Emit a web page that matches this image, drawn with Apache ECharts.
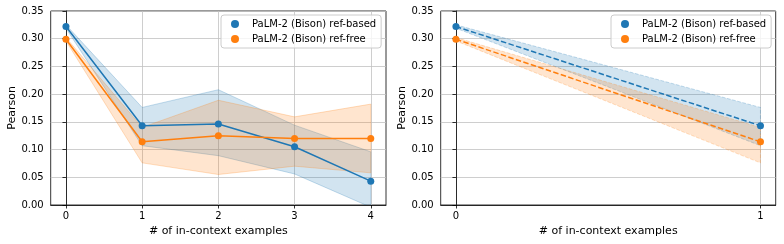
<!DOCTYPE html>
<html>
<head>
<meta charset="utf-8">
<script src="https://cdn.jsdelivr.net/npm/echarts@6/dist/echarts.min.js"></script>
<style>
html,body{margin:0;padding:0;background:#fff;}
#chart{width:784px;height:244px;}
</style>
</head>
<body>
<div id="chart"></div>
<script>
// ---- data ----
const xLeft = [0, 1, 2, 3, 4];
const xRight = [0, 1];
const basedMean = [0.322, 0.143, 0.146, 0.105, 0.043];
const basedLo   = [0.319, 0.107, 0.089, 0.056, -0.004];
const basedHi   = [0.325, 0.176, 0.208, 0.144, 0.096];
const freeMean  = [0.299, 0.114, 0.125, 0.120, 0.120];
const freeLo    = [0.296, 0.076, 0.055, 0.070, 0.058];
const freeHi    = [0.302, 0.140, 0.189, 0.159, 0.182];
const yTicks = [0, 0.05, 0.10, 0.15, 0.20, 0.25, 0.30, 0.35];
const nameBased = 'PaLM-2 (Bison) ref-based';
const nameFree = 'PaLM-2 (Bison) ref-free';

const BLUE = '#1f77b4', ORANGE = '#ff7f0e';
const FONT = 'DejaVu Sans';
const GRIDC = '#c2c2c2';

function rgba(hex, a) {
  const n = parseInt(hex.slice(1), 16);
  return 'rgba(' + ((n >> 16) & 255) + ',' + ((n >> 8) & 255) + ',' + (n & 255) + ',' + a + ')';
}
function pairs(xs, ys) { return xs.map((x, i) => [x, ys[i]]); }

function bandSeries(xs, lo, hi, color, dashed, idx) {
  const data = xs.map((x, i) => [x, lo[i], hi[i]]);
  return {
    type: 'custom', xAxisIndex: idx, yAxisIndex: idx, clip: true, silent: true, z: 1,
    data: data,
    encode: { x: 0, y: [1, 2] },
    renderItem: function (params, api) {
      if (params.dataIndex !== 0) return;
      const top = data.map(d => api.coord([d[0], d[2]]));
      const bot = data.map(d => api.coord([d[0], d[1]])).reverse();
      return {
        type: 'polygon',
        shape: { points: top.concat(bot) },
        style: {
          fill: rgba(color, 0.2),
          stroke: rgba(color, 0.25),
          lineWidth: 1,
          lineDash: dashed ? [3.7, 1.6] : null
        }
      };
    }
  };
}
function lineSeries(name, xs, ys, color, dashed, idx) {
  return {
    type: 'line', name: name, xAxisIndex: idx, yAxisIndex: idx, z: 3,
    data: pairs(xs, ys),
    symbol: 'circle', symbolSize: 7, showSymbol: true,
    itemStyle: { color: color },
    lineStyle: { color: color, width: 1.5, type: dashed ? [5.5, 2.4] : 'solid' },
    emphasis: { disabled: true },
    animation: false
  };
}
function xAxisDef(idx, min, max, ticks) {
  return {
    type: 'value', gridIndex: idx, min: min, max: max,
    name: '# of in-context examples', nameLocation: 'middle', nameGap: 19,
    nameTextStyle: { fontFamily: FONT, fontSize: 11, color: '#000' },
    axisLine: { show: true, onZero: false, lineStyle: { color: '#000', width: 0.8 } },
    axisTick: { show: true, length: 3.5, lineStyle: { color: '#000', width: 0.8 }, customValues: ticks },
    axisLabel: { fontFamily: FONT, fontSize: 10, color: '#000', margin: 6, customValues: ticks },
    splitLine: { show: true, lineStyle: { color: GRIDC, width: 0.8 } }
  };
}
function yAxisDef(idx) {
  return {
    type: 'value', gridIndex: idx, min: 0, max: 0.35, interval: 0.05,
    name: 'Pearson', nameLocation: 'middle', nameGap: 33,
    nameTextStyle: { fontFamily: FONT, fontSize: 11, color: '#000' },
    axisLine: { show: true, lineStyle: { color: '#000', width: 0.8 } },
    axisTick: { show: true, length: 3.5, lineStyle: { color: '#000', width: 0.8 } },
    axisLabel: { fontFamily: FONT, fontSize: 10, color: '#000', margin: 7,
      formatter: v => v.toFixed(2) },
    splitLine: { show: true, lineStyle: { color: GRIDC, width: 0.8 } }
  };
}
function legendDef(left) {
  return {
    left: left, top: 15, orient: 'vertical',
    data: [{ name: nameBased, icon: 'circle' }, { name: nameFree, icon: 'circle' }],
    itemWidth: 8, itemHeight: 8, itemGap: 3,
    padding: [3, 5, 3, 10],
    backgroundColor: 'rgba(255,255,255,0.8)', borderColor: '#cccccc', borderWidth: 1, borderRadius: 3,
    textStyle: { fontFamily: FONT, fontSize: 10, color: '#000', lineHeight: 12, padding: [0, 0, 0, 8] },
    selectedMode: false
  };
}

const chart = echarts.init(document.getElementById('chart'), null, { renderer: 'canvas' });
chart.setOption({
  animation: false,
  backgroundColor: '#fff',
  grid: [
    { left: 50.7, top: 11, width: 335.3, height: 194, show: true, borderColor: '#000', borderWidth: 0.8, backgroundColor: 'transparent' },
    { left: 440.7, top: 11, width: 335, height: 194, show: true, borderColor: '#000', borderWidth: 0.8, backgroundColor: 'transparent' }
  ],
  xAxis: [xAxisDef(0, -0.2, 4.2, xLeft), xAxisDef(1, -0.05, 1.05, xRight)],
  yAxis: [yAxisDef(0), yAxisDef(1)],
  legend: [legendDef(221), legendDef(611)],
  series: [
    bandSeries(xLeft, basedLo, basedHi, BLUE, false, 0),
    bandSeries(xLeft, freeLo, freeHi, ORANGE, false, 0),
    lineSeries(nameBased, xLeft, basedMean, BLUE, false, 0),
    lineSeries(nameFree, xLeft, freeMean, ORANGE, false, 0),
    bandSeries(xRight, basedLo.slice(0, 2), basedHi.slice(0, 2), BLUE, true, 1),
    bandSeries(xRight, freeLo.slice(0, 2), freeHi.slice(0, 2), ORANGE, true, 1),
    lineSeries(nameBased, xRight, basedMean.slice(0, 2), BLUE, true, 1),
    lineSeries(nameFree, xRight, freeMean.slice(0, 2), ORANGE, true, 1)
  ]
});
</script>
</body>
</html>
